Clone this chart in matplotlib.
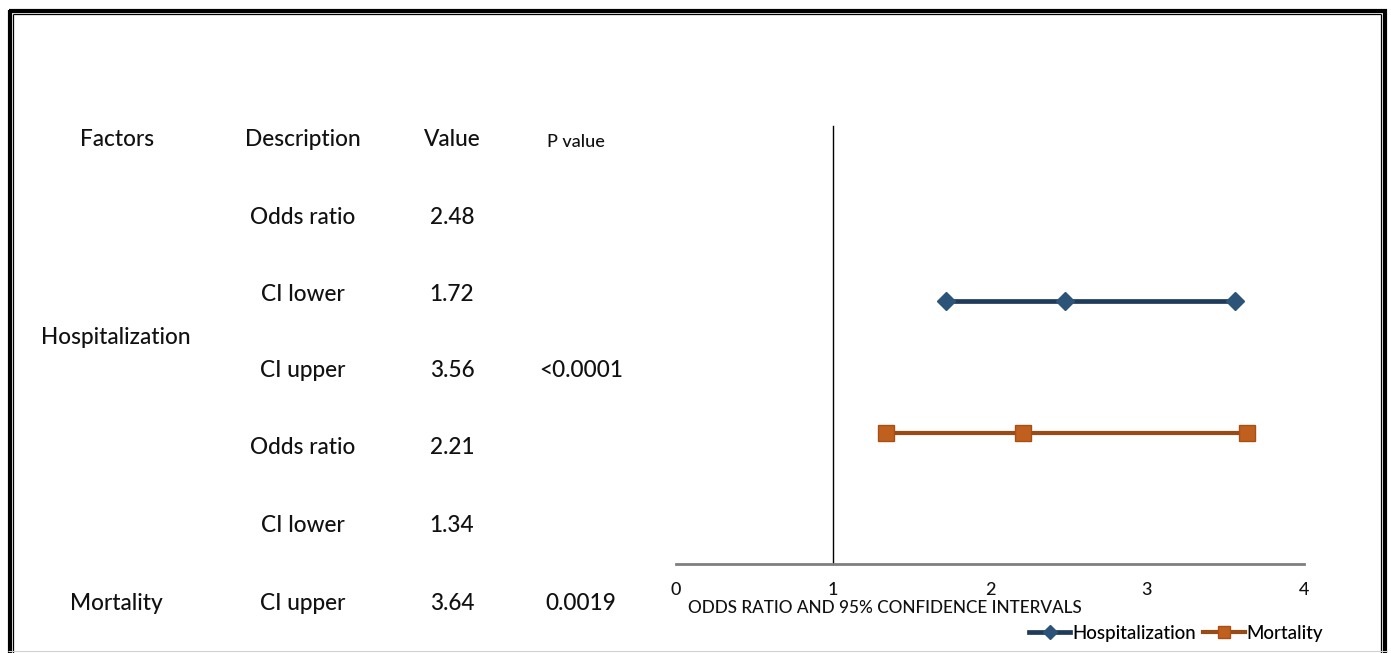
import matplotlib
matplotlib.use("Agg")
import matplotlib.pyplot as plt
from matplotlib.lines import Line2D

plt.rcParams['font.family'] = ['Lato', 'DejaVu Sans']
plt.rcParams['font.weight'] = 'medium'

# Table content
header = ["Factors", "Description", "Value", "P value"]
factors = ["Hospitalization", "Mortality"]
descriptions = ["Odds ratio", "CI lower", "CI upper", "Odds ratio", "CI lower", "CI upper"]
values = [2.48, 1.72, 3.56, 2.21, 1.34, 3.64]
p_values = ["<0.0001", "0.0019"]

# Forest plot series: (lower, odds ratio, upper) per factor
series_names = ["Hospitalization", "Mortality"]
hosp_x = [1.72, 2.48, 3.56]
mort_x = [1.34, 2.21, 3.64]
series_y = [6, 3]
x_ticks = [0, 1, 2, 3, 4]

W, H = 1391, 653
fig = plt.figure(figsize=(W / 100, H / 100), dpi=100)
fig.patch.set_facecolor("white")


def fx(px):
    return px / W


def fy(py):
    return 1 - py / H


# Double frame around the figure
frame_kw = dict(transform=fig.transFigure, solid_capstyle="butt")
fig.add_artist(Line2D([fx(10), fx(10)], [fy(10), 0], color="black", lw=3.0, **frame_kw))
fig.add_artist(Line2D([fx(8.5), fx(1386.5)], [fy(10.5), fy(10.5)], color="black", lw=3.0, **frame_kw))
fig.add_artist(Line2D([fx(1385), fx(1385)], [fy(9), 0], color="black", lw=3.0, **frame_kw))
fig.add_artist(Line2D([fx(13.5), fx(13.5)], [fy(14), 0], color="black", lw=0.9, **frame_kw))
fig.add_artist(Line2D([fx(13.5), fx(1381)], [fy(14), fy(14)], color="black", lw=0.9, **frame_kw))
fig.add_artist(Line2D([fx(1381), fx(1381)], [fy(14), 0], color="black", lw=0.9, **frame_kw))
fig.add_artist(Line2D([fx(8), fx(1387)], [fy(651), fy(651)], color="#d0d0d0", lw=0.8, **frame_kw))

# Table text
txt_color = "#111111"
fs = 16.3
header_x = [117, 303, 452, 576]
header_y = [139, 140, 140, 142]
for i, h in enumerate(header):
    fig.text(fx(header_x[i]), fy(header_y[i]), h, ha="center", va="center",
             fontsize=fs if i < 3 else 13, color=txt_color)

row_y = [217, 295, 371, 448, 525, 603]
for i, (d, v) in enumerate(zip(descriptions, values)):
    fig.text(fx(303), fy(row_y[i]), d, ha="center", va="center", fontsize=fs, color=txt_color)
    fig.text(fx(452), fy(row_y[i]), f"{v:.2f}", ha="center", va="center", fontsize=fs, color=txt_color)

factor_y = [338, 603]
for name, y in zip(factors, factor_y):
    fig.text(fx(116), fy(y), name, ha="center", va="center", fontsize=fs, color=txt_color)

p_y = [371, 603]
for p, y in zip(p_values, p_y):
    fig.text(fx(581), fy(y), p, ha="center", va="center", fontsize=fs, color=txt_color)

# Forest plot axes
ax = fig.add_axes([fx(676), fy(564), fx(1304) - fx(676), (564 - 126) / H])
ax.set_xlim(0, 4)
ax.set_ylim(0, 10)

ax.plot(hosp_x, [series_y[0]] * 3, color="#1f3b5a", lw=3.4, marker="D", markersize=9,
        markerfacecolor="#2c5478", markeredgecolor="#2c5478", label=series_names[0])
ax.plot(mort_x, [series_y[1]] * 3, color="#9a4a14", lw=3.0, marker="s", markersize=12,
        markerfacecolor="#c0601f", markeredgecolor="#a65018", label=series_names[1])

for s in ["top", "right"]:
    ax.spines[s].set_visible(False)
ax.spines["left"].set_position(("data", 1))
ax.spines["left"].set_color("black")
ax.spines["left"].set_linewidth(1.0)
ax.spines["bottom"].set_color("#7f7f7f")
ax.spines["bottom"].set_linewidth(2.0)
ax.set_yticks([])
ax.set_xticks(x_ticks)
ax.set_xticklabels([str(t) for t in x_ticks], fontsize=13, color=txt_color)
ax.tick_params(axis="x", length=0, pad=13)
ax.patch.set_alpha(0)

fig.text(fx(688), fy(608), "ODDS RATIO AND 95% CONFIDENCE INTERVALS", ha="left", va="center",
         fontsize=12.3, color=txt_color)

leg = fig.legend(loc="center", bbox_to_anchor=(fx(1176), fy(633)), ncol=2, frameon=False,
                 fontsize=13.5, handlelength=2.2, handletextpad=0.1, columnspacing=0.4,
                 markerscale=0.75)

fig.savefig("out.png", dpi=100)
